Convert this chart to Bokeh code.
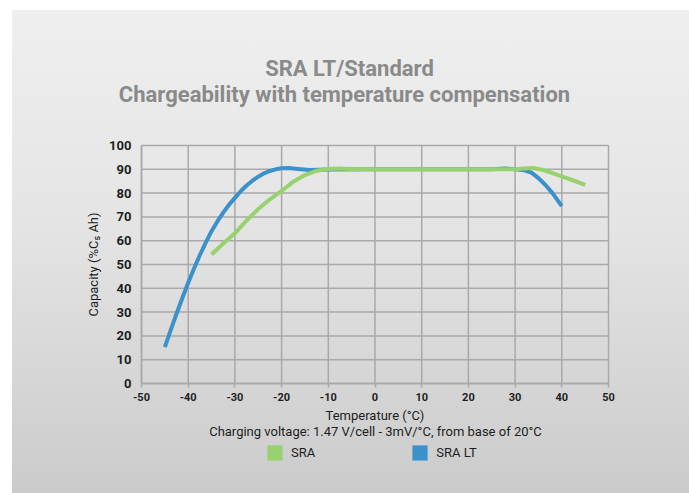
from bokeh.plotting import figure
from bokeh.models import Range1d, FixedTicker, Legend, LegendItem, ColumnDataSource, Label
from bokeh.embed import file_html
from bokeh.resources import INLINE

# ---- data ----
lt_temp = [-45, -43.75, -42.5, -41.25, -40, -38.75, -37.5, -36.25, -35, -33.75, -32.5, -31.25, -30,
           -28.75, -27.5, -26.25, -25, -23.75, -22.5, -21.25, -20, -18.5, -16.5, -14, -10,
           0, 10, 20, 25, 28, 30, 32, 33.5, 35, 36.5, 38, 40]
lt_cap = [15.3, 22.4, 29.3, 35.9, 42.3, 48.3, 54.0, 59.2, 64.0, 68.1, 71.8, 75.1, 78.0,
          80.8, 83.2, 85.2, 86.9, 88.3, 89.3, 90.0, 90.4, 90.5, 90.1, 89.7, 89.9,
          90, 90, 90, 90, 90.3, 90, 89.6, 88.6, 86.3, 83.4, 80.0, 74.5]

sra_temp = [-35, -32.5, -30, -27.5, -25, -22.5, -20, -17.5, -15, -12.5, -10, -7.5, -5,
            0, 10, 20, 30, 32, 34, 36, 38, 40, 42.5, 45]
sra_cap = [54.2, 58.8, 63.1, 68.5, 73.3, 77.4, 80.9, 84.8, 87.6, 89.4, 90.1, 90.3, 90,
           90, 90, 90, 90, 90.3, 90.5, 89.7, 88.4, 87, 85.3, 83.5]

x_ticks = [-50, -40, -30, -20, -10, 0, 10, 20, 30, 40, 50]
x_tick_labels = ["-50", "-40", "-30", "-20", "-10", "0", "10", "20", "30", "40", "50"]
y_ticks = [0, 10, 20, 30, 40, 50, 60, 70, 80, 90, 100]

series_names = ["SRA", "SRA LT"]
title_lines = ["SRA LT/Standard", "Chargeability with temperature compensation"]
note_text = "Charging voltage: 1.47 V/cell - 3mV/°C, from base of 20°C"

GREEN = "#97d26f"
BLUE = "#3b91cc"
GRID = "#a9a9a9"
TXT = "#1e1e1e"
TITLE_C = "#8a8a8a"
FONT = "Roboto"

# ---- layout: plot box in page pixels ----
W, H = 689, 493
BOX_L, BOX_R, BOX_T, BOX_B = 141, 608, 145, 383
x_lo, x_hi = x_ticks[0], x_ticks[-1]
y_lo, y_hi = y_ticks[0], y_ticks[-1]
x_per_px = (x_hi - x_lo) / (BOX_R - BOX_L)
y_per_px = (y_hi - y_lo) / (BOX_B - BOX_T)
xs = x_lo - BOX_L * x_per_px
xe = x_hi + (W - BOX_R) * x_per_px
ys = y_lo - (H - BOX_B) * y_per_px
ye = y_hi + BOX_T * y_per_px


def px_x(px):
    return xs + px * x_per_px


def px_y(py):
    return ys + (H - py) * y_per_px


p = figure(width=W, height=H, output_backend="svg", toolbar_location=None,
           x_range=Range1d(xs, xe), y_range=Range1d(ys, ye), min_border=0)
p.title.visible = False
p.border_fill_color = None
p.background_fill_color = None
p.styles = {"background": "linear-gradient(to bottom, #efefef 0%, #e4e4e4 45%, #cbcbcb 100%) "
                          "12px 10px / calc(100% - 12px) calc(100% - 10px) no-repeat, #ffffff"}
p.outline_line_color = None
p.xgrid.visible = False
p.ygrid.visible = False

# grid inside the plot box
p.segment(x0=x_ticks, y0=y_lo, x1=x_ticks, y1=y_hi, line_color=GRID, line_width=1.5)
p.segment(x0=x_lo, y0=y_ticks, x1=x_hi, y1=y_ticks, line_color=GRID, line_width=1.5)

# axes
p.xaxis.fixed_location = y_lo
p.yaxis.fixed_location = x_lo
p.xaxis.bounds = (x_lo, x_hi)
p.yaxis.bounds = (y_lo, y_hi)
p.xaxis.ticker = FixedTicker(ticks=x_ticks)
p.xaxis.major_label_overrides = {t: s for t, s in zip(x_ticks, x_tick_labels)}
p.yaxis.ticker = FixedTicker(ticks=y_ticks)
for ax in (p.xaxis, p.yaxis):
    ax.axis_line_color = GRID
    ax.axis_line_width = 1.5
    ax.major_tick_line_color = GRID
    ax.major_tick_line_width = 1.5
    ax.minor_tick_line_color = None
    ax.major_tick_in = 0
    ax.major_label_text_color = TXT
    ax.major_label_text_font = FONT
    ax.major_label_text_font_style = "bold"
    ax.axis_label_text_font = FONT
    ax.axis_label_text_font_size = "13px"
    ax.axis_label_text_font_style = "normal"
    ax.axis_label_text_color = TXT

p.xaxis.major_tick_out = 4
p.yaxis.major_tick_out = 0
p.xaxis.major_label_text_font_size = "11px"
p.xaxis.major_label_standoff = 5
p.yaxis.major_label_text_font_size = "13px"
p.yaxis.major_label_standoff = 10
p.xaxis.axis_label = "Temperature (°C)"
p.yaxis.axis_label = "Capacity (%C₅ Ah)"
p.xaxis.axis_label_standoff = 4
p.yaxis.axis_label_standoff = 5

# series
src_lt = ColumnDataSource(dict(x=lt_temp, y=lt_cap))
src_sra = ColumnDataSource(dict(x=sra_temp, y=sra_cap))
p.line("x", "y", source=src_lt, line_color=BLUE, line_width=4, line_join="round")
p.line("x", "y", source=src_sra, line_color=GREEN, line_width=4, line_join="round")

# titles and note
for txt, (cx, cy) in zip(title_lines, [(349, 68), (344, 94)]):
    p.add_layout(Label(x=px_x(cx), y=px_y(cy), text=txt, text_align="center", text_baseline="middle",
                       text_font=FONT, text_font_size="22px", text_font_style="bold",
                       text_color=TITLE_C))
p.add_layout(Label(x=px_x(375), y=px_y(431), text=note_text, text_align="center",
                   text_baseline="middle", text_font=FONT, text_font_size="13px", text_color=TXT))

# legend swatches
nan = float("nan")
sw_sra = p.quad(left=[nan], right=[nan], bottom=[nan], top=[nan], fill_color=GREEN, line_color=None)
sw_lt = p.quad(left=[nan], right=[nan], bottom=[nan], top=[nan], fill_color=BLUE, line_color=None)
legend = Legend(items=[LegendItem(label=series_names[0], renderers=[sw_sra]),
                       LegendItem(label=series_names[1], renderers=[sw_lt])],
                orientation="horizontal", location=(265, H - 462),
                glyph_width=19, glyph_height=19, label_height=19, label_standoff=7,
                spacing=95, padding=0, margin=0,
                border_line_color=None, background_fill_alpha=0,
                label_text_font=FONT, label_text_font_size="13px", label_text_color=TXT)
p.add_layout(legend, "center")

open("out.html", "w").write(file_html(p, INLINE))
